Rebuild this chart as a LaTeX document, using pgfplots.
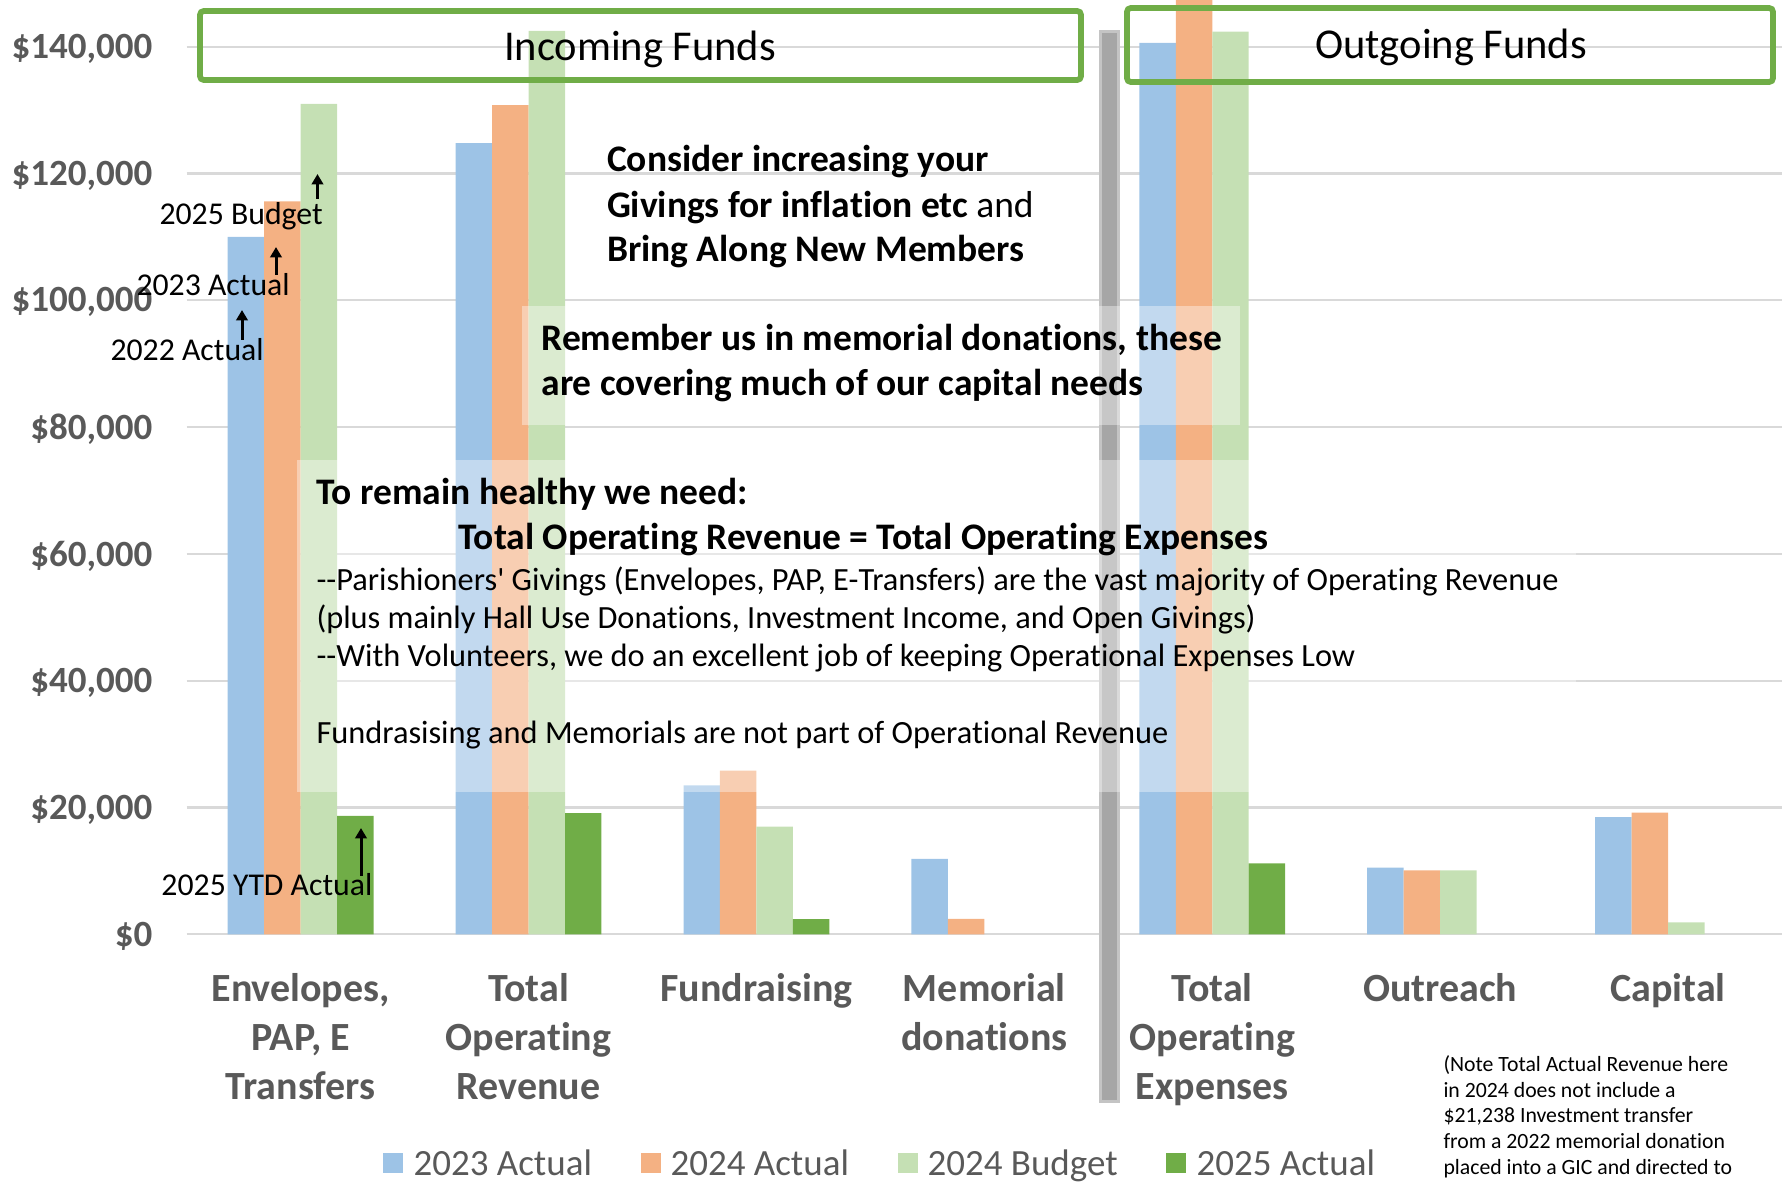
\documentclass[border=0pt]{standalone}
\usepackage{fontspec}
\setmainfont{Carlito}[Ligatures={TeX,NoCommon}]
\usepackage{pgfplots}
\pgfplotsset{compat=1.18}
\usetikzlibrary{arrows.meta}
\definecolor{cBlue}{HTML}{9DC3E6}
\definecolor{cOrange}{HTML}{F4B183}
\definecolor{cLGreen}{HTML}{C5E0B4}
\definecolor{cGreen}{HTML}{70AD47}
\definecolor{cText}{HTML}{595959}
\definecolor{cGrid}{HTML}{D9D9D9}
\definecolor{cSep}{HTML}{A6A6A6}
\definecolor{cSepB}{HTML}{C4C4C4}
\begin{document}
\begin{tikzpicture}
\useasboundingbox (0,0) rectangle (716.4pt,472.4pt);
\clip (0,0) rectangle (716.4pt,472.4pt);
\begin{axis}[
  at={(74.68pt,98.68pt)}, anchor=south west,
  width=638.12pt, height=373.72pt, scale only axis,
  xmin=-0.5, xmax=6.5, ymin=0, ymax=147370,
  axis line style={draw=none},
  major tick length=0pt,
  ymajorgrids, grid style={cGrid, line width=0.9pt},
  xtick={0,1,2,3,4,5,6},
  xticklabels={{Envelopes,\\PAP, E\\Transfers},{Total\\Operating\\Revenue},{Fundraising},{Memorial\\donations},{Total\\Operating\\Expenses},{Outreach},{Capital}},
  xticklabel style={align=center, anchor=north, inner sep=0pt, yshift=-15.5pt,
    font=\fontsize{16}{19.6}\selectfont\bfseries, text=cText},
  ytick={0,20000,40000,60000,80000,100000,120000,140000},
  yticklabels={{\$0},{\$20,000},{\$40,000},{\$60,000},{\$80,000},{\$100,000},{\$120,000},{\$140,000}},
  yticklabel style={anchor=east, inner sep=0pt, xshift=-13.5pt, yshift=-0.8pt,
    font=\fontsize{14.8}{17}\selectfont\bfseries, text=cText},
]
\addplot[ybar, bar width=0.16, bar shift=-0.24, fill=cBlue, draw=none]
  coordinates {(0,110000) (1,124800) (2,23500) (3,11900) (4,140600) (5,10500) (6,18500)};
\addplot[ybar, bar width=0.16, bar shift=-0.08, fill=cOrange, draw=none]
  coordinates {(0,115600) (1,130800) (2,25800) (3,2450) (4,150000) (5,10100) (6,19200)};
\addplot[ybar, bar width=0.16, bar shift=0.08, fill=cLGreen, draw=none]
  coordinates {(0,131000) (1,142500) (2,17000) (4,142400) (5,10100) (6,1900)};
\addplot[ybar, bar width=0.16, bar shift=0.24, fill=cGreen, draw=none]
  coordinates {(0,18700) (1,19100) (2,2400) (4,11200)};
\end{axis}
\begin{scope}[shift={(0pt,472.4pt)}, x=0.4pt, y=-0.4pt]
  \fill[cSep, draw=cSepB, line width=1.2pt] (1100,32) rectangle (1118,1102);
  \fill[white, fill opacity=0.38] (522,306) rectangle (1240,425);
  \fill[white, fill opacity=0.38] (297,460) rectangle (1576,792);
  \draw[cGreen, line width=2.3pt, rounded corners=1.5pt] (200,11) rectangle (1081,80);
  \draw[cGreen, line width=2.3pt, rounded corners=1.5pt] (1127,8) rectangle (1773,82);
  \node[anchor=base, inner sep=0pt, font=\fontsize{17}{20}\selectfont] at (640,61) {Incoming Funds};
  \node[anchor=base, inner sep=0pt, font=\fontsize{17}{20}\selectfont] at (1451,59) {Outgoing Funds};
  \begin{scope}[every node/.style={anchor=base west, inner sep=0pt, font=\fontsize{15}{18}\selectfont}]
    \node at (606.5,172) {\bfseries Consider increasing your};
    \node at (606.5,218) {{\bfseries Givings for inflation etc} and};
    \node at (606.5,262) {\bfseries Bring Along New Members};
    \node at (541,351) {\bfseries Remember us in memorial donations, these};
    \node at (541,396) {\bfseries are covering much of our capital needs};
    \node at (316,505) {\bfseries To remain healthy we need:};
    \node at (458,550) {\bfseries Total Operating Revenue = Total Operating Expenses};
  \end{scope}
  \begin{scope}[every node/.style={anchor=base west, inner sep=0pt, font=\fontsize{12.95}{15}\selectfont}]
    \node at (316,590.5) {-{}-Parishioners\textquotesingle{} Givings (Envelopes, PAP, E-Transfers) are the vast majority of Operating Revenue};
    \node at (316,628.5) {(plus mainly Hall Use Donations, Investment Income, and Open Givings)};
    \node at (316,666.5) {-{}-With Volunteers, we do an excellent job of keeping Operational Expenses Low};
    \node at (316,743.5) {Fundrasising and Memorials are not part of Operational Revenue};
  \end{scope}
  \begin{scope}[every node/.style={anchor=base west, inner sep=0pt, font=\fontsize{12.7}{15}\selectfont}]
    \node at (159,225) {2025 Budget};
    \node at (136,296) {2023 Actual};
    \node at (110,361) {2022 Actual};
    \node at (161,896) {2025 YTD Actual};
  \end{scope}
  \begin{scope}[line width=1.2pt, -{Triangle[length=4.2pt,width=4.6pt]}]
    \draw (317.5,199) -- (317.5,174);
    \draw (276,275) -- (276,247);
    \draw (242,340) -- (242,310);
    \draw (361,876) -- (361,828);
  \end{scope}
  \begin{scope}[every node/.style={anchor=base west, inner sep=0pt, font=\fontsize{8.7}{10}\selectfont}]
    \node at (1443,1071.5) {(Note Total Actual Revenue here};
    \node at (1443,1097.5) {in 2024 does not include a};
    \node at (1443,1122.5) {\$21,238 Investment transfer};
    \node at (1443,1148.5) {from a 2022 memorial donation};
    \node at (1443,1174.5) {placed into a GIC and directed to};
  \end{scope}
  \fill[cBlue] (383,1153) rectangle (403,1173);
  \fill[cOrange] (641,1153) rectangle (661,1173);
  \fill[cLGreen] (898,1153) rectangle (918,1173);
  \fill[cGreen] (1166,1153) rectangle (1186,1173);
  \begin{scope}[every node/.style={anchor=base west, inner sep=0pt, text=cText, font=\fontsize{14.8}{17}\selectfont}]
    \node at (413,1175) {2023 Actual};
    \node at (670,1175) {2024 Actual};
    \node at (927,1175) {2024 Budget};
    \node at (1196,1175) {2025 Actual};
  \end{scope}
\end{scope}
\end{tikzpicture}
\end{document}
